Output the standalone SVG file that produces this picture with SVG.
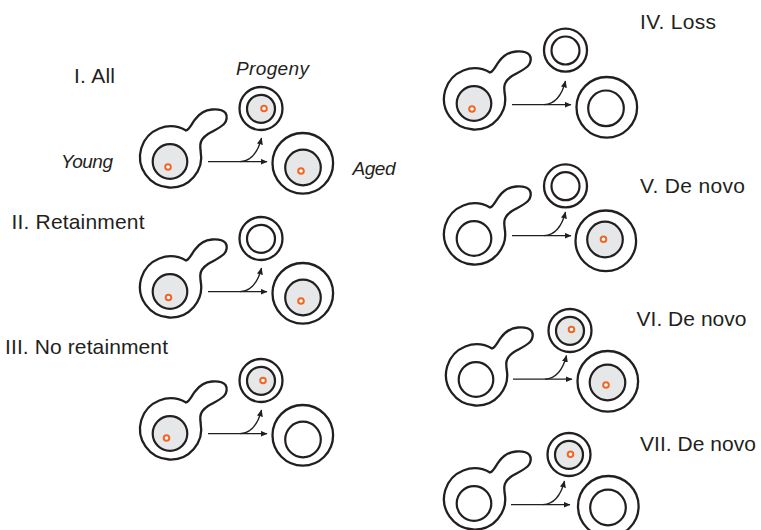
<svg xmlns="http://www.w3.org/2000/svg" xmlns:xlink="http://www.w3.org/1999/xlink" width="761" height="530" viewBox="0 0 761 530">
  <style>
    .wall{fill:#fff;stroke:#231f20;stroke-width:2.3}
    .nuc{fill:#fff;stroke:#231f20;stroke-width:2.2}
    .full{fill:#e6e7e8}
    .spb{fill:#fff;stroke:#f26522;stroke-width:2}
    .arr{fill:none;stroke:#231f20;stroke-width:1.3;marker-end:url(#head)}
    .lbl{font-family:"Liberation Sans",Arial,Helvetica,sans-serif;font-size:21px;fill:#231f20}
    .tag{font-family:"Liberation Sans",Arial,sans-serif;font-style:italic;font-size:19px;fill:#231f20}
  </style>
  <defs>
    <marker id="head" markerUnits="userSpaceOnUse" markerWidth="7" markerHeight="6" refX="6.5" refY="3" orient="auto">
      <path d="M0,0 L7,3 L0,6 Z" fill="#231f20"/>
    </marker>
    <!-- budding mother cell outline: round body with a bud lobe to the upper right -->
    <path id="budding" d="M186,130.5 C189.5,129.5 191.5,124 195,119.5 C199,114 205,110 212,109.5 C218,109 223,110 225.5,113 C227.5,116 227,121 224,124 C220,128 214,130.5 208,134 C203.5,137 200.5,140 200.3,145 C200.2,147 200.4,149 200.6,151 A30.6 30.6 0 1 1 186,130.5 Z"/>
  </defs>

  <!-- labels -->
  <text class="lbl" x="74" y="83" textLength="41">I. All</text>
  <text class="lbl" x="11.5" y="229.3" textLength="133">II. Retainment</text>
  <text class="lbl" x="5" y="354" textLength="163">III. No retainment</text>
  <text class="lbl" x="640" y="29.3" textLength="76">IV. Loss</text>
  <text class="lbl" x="640" y="192.7" textLength="105">V. De novo</text>
  <text class="lbl" x="636.5" y="326" textLength="110">VI. De novo</text>
  <text class="lbl" x="640" y="451" textLength="116">VII. De novo</text>
  <text class="tag" x="236" y="75" textLength="73">Progeny</text>
  <text class="tag" x="61" y="168.3" textLength="52">Young</text>
  <text class="tag" x="352.5" y="175" textLength="43">Aged</text>

  <!-- I. All -->
  <g id="p1-mother">
    <use xlink:href="#budding" class="wall"/>
    <circle class="nuc full" cx="170" cy="161.5" r="17.3"/>
    <circle class="spb" cx="168" cy="167" r="2.8"/>
  </g>
  <g id="p1-progeny">
    <circle class="wall" cx="261" cy="108.5" r="21.5"/>
    <circle class="nuc full" cx="261" cy="108.8" r="14"/>
    <circle class="spb" cx="264" cy="108.5" r="2.8"/>
  </g>
  <g id="p1-aged">
    <circle class="wall" cx="302.8" cy="163.3" r="30.3"/>
    <circle class="nuc full" cx="303" cy="167.5" r="17.8"/>
    <circle class="spb" cx="301" cy="171" r="2.8"/>
  </g>

  <!-- II. Retainment -->
  <g id="p2-mother" transform="translate(0,130)">
    <use xlink:href="#budding" class="wall"/>
    <circle class="nuc full" cx="170" cy="161.5" r="17.3"/>
    <circle class="spb" cx="168.5" cy="167.5" r="2.8"/>
  </g>
  <g id="p2-progeny" transform="translate(0,130)">
    <circle class="wall" cx="261" cy="108.5" r="21.5"/>
    <circle class="nuc" cx="261" cy="108.8" r="14"/>
  </g>
  <g id="p2-aged" transform="translate(0,130)">
    <circle class="wall" cx="302.8" cy="163.3" r="30.3"/>
    <circle class="nuc full" cx="303" cy="167.5" r="17.8"/>
    <circle class="spb" cx="301" cy="171" r="2.8"/>
  </g>

  <!-- III. No retainment -->
  <g id="p3-mother" transform="translate(0,272)">
    <use xlink:href="#budding" class="wall"/>
    <circle class="nuc full" cx="170" cy="161.5" r="17.3"/>
    <circle class="spb" cx="166.5" cy="166" r="2.8"/>
  </g>
  <g id="p3-progeny" transform="translate(0,272)">
    <circle class="wall" cx="261" cy="108.5" r="21.5"/>
    <circle class="nuc full" cx="261" cy="108.8" r="14"/>
    <circle class="spb" cx="263" cy="108.5" r="2.8"/>
  </g>
  <g id="p3-aged" transform="translate(0,272)">
    <circle class="wall" cx="302.8" cy="163.3" r="30.3"/>
    <circle class="nuc" cx="303" cy="167.5" r="17.8"/>
  </g>

  <!-- IV. Loss -->
  <g id="p4-mother" transform="translate(304,-58)">
    <use xlink:href="#budding" class="wall"/>
    <circle class="nuc full" cx="170" cy="161.5" r="17.3"/>
    <circle class="spb" cx="168" cy="167" r="2.8"/>
  </g>
  <g id="p4-progeny" transform="translate(304.5,-58.3)">
    <circle class="wall" cx="261" cy="108.5" r="21.5"/>
    <circle class="nuc" cx="261" cy="108.8" r="14"/>
  </g>
  <g id="p4-aged" transform="translate(304,-56)">
    <circle class="wall" cx="302.8" cy="163.3" r="30.3"/>
    <circle class="nuc" cx="302" cy="164.3" r="17.8"/>
  </g>

  <!-- V. De novo -->
  <g id="p5-mother" transform="translate(304,77)">
    <use xlink:href="#budding" class="wall"/>
    <circle class="nuc" cx="170" cy="161.5" r="17.3"/>
  </g>
  <g id="p5-progeny" transform="translate(304.5,77.4)">
    <circle class="wall" cx="261" cy="108.5" r="21.5"/>
    <circle class="nuc" cx="261" cy="108.8" r="14"/>
  </g>
  <g id="p5-aged" transform="translate(303,77.5)">
    <circle class="wall" cx="302.8" cy="163.3" r="30.3"/>
    <circle class="nuc full" cx="302" cy="162" r="17.8"/>
    <circle class="spb" cx="300.5" cy="161.8" r="2.8"/>
  </g>

  <!-- VI. De novo -->
  <g id="p6-mother" transform="translate(306,218)">
    <use xlink:href="#budding" class="wall"/>
    <circle class="nuc" cx="170" cy="161.5" r="17.3"/>
  </g>
  <g id="p6-progeny" transform="translate(309,222)">
    <circle class="wall" cx="261" cy="108.5" r="21.5"/>
    <circle class="nuc full" cx="261" cy="108.8" r="14"/>
    <circle class="spb" cx="262.5" cy="107.5" r="2.8"/>
  </g>
  <g id="p6-aged" transform="translate(305,218)">
    <circle class="wall" cx="302.8" cy="163.3" r="30.3"/>
    <circle class="nuc full" cx="302.5" cy="164.5" r="17.8"/>
    <circle class="spb" cx="301" cy="167" r="2.8"/>
  </g>

  <!-- VII. De novo -->
  <g id="p7-mother" transform="translate(304,342)">
    <use xlink:href="#budding" class="wall"/>
    <circle class="nuc" cx="170" cy="161.5" r="17.3"/>
  </g>
  <g id="p7-progeny" transform="translate(308,346)">
    <circle class="wall" cx="261" cy="108.5" r="21.5"/>
    <circle class="nuc full" cx="261" cy="108.8" r="14"/>
    <circle class="spb" cx="262.5" cy="108.3" r="2.8"/>
  </g>
  <g id="p7-aged" transform="translate(305.5,343)">
    <circle class="wall" cx="302.8" cy="163.3" r="30.3"/>
    <circle class="nuc" cx="302.5" cy="164.5" r="17.8"/>
  </g>

  <!-- division arrows: straight to the aged cell, branch curving up to the progeny -->
  <g id="connectors">
    <g transform="translate(0,0)">
      <path class="arr" d="M208,161.7 H267"/>
      <path class="arr" d="M240,161.7 C251,161 258,152 261.5,138"/>
    </g>
    <g transform="translate(0,130)">
      <path class="arr" d="M208,161.7 H267"/>
      <path class="arr" d="M240,161.7 C251,161 258,152 261.5,138"/>
    </g>
    <g transform="translate(0,272)">
      <path class="arr" d="M208,161.7 H267"/>
      <path class="arr" d="M240,161.7 C251,161 258,152 261.5,138"/>
    </g>
    <g transform="translate(304,-57)">
      <path class="arr" d="M208,161.7 H267"/>
      <path class="arr" d="M240,161.7 C251,161 258,152 261.5,138"/>
    </g>
    <g transform="translate(304,74)">
      <path class="arr" d="M208,161.7 H267"/>
      <path class="arr" d="M240,161.7 C251,161 258,152 261.5,138"/>
    </g>
    <g transform="translate(305,217.5)">
      <path class="arr" d="M208,161.7 H267"/>
      <path class="arr" d="M240,161.7 C251,161 258,152 261.5,138"/>
    </g>
    <g transform="translate(303,343)">
      <path class="arr" d="M208,161.7 H267"/>
      <path class="arr" d="M240,161.7 C251,161 258,152 261.5,138"/>
    </g>
  </g>
</svg>
